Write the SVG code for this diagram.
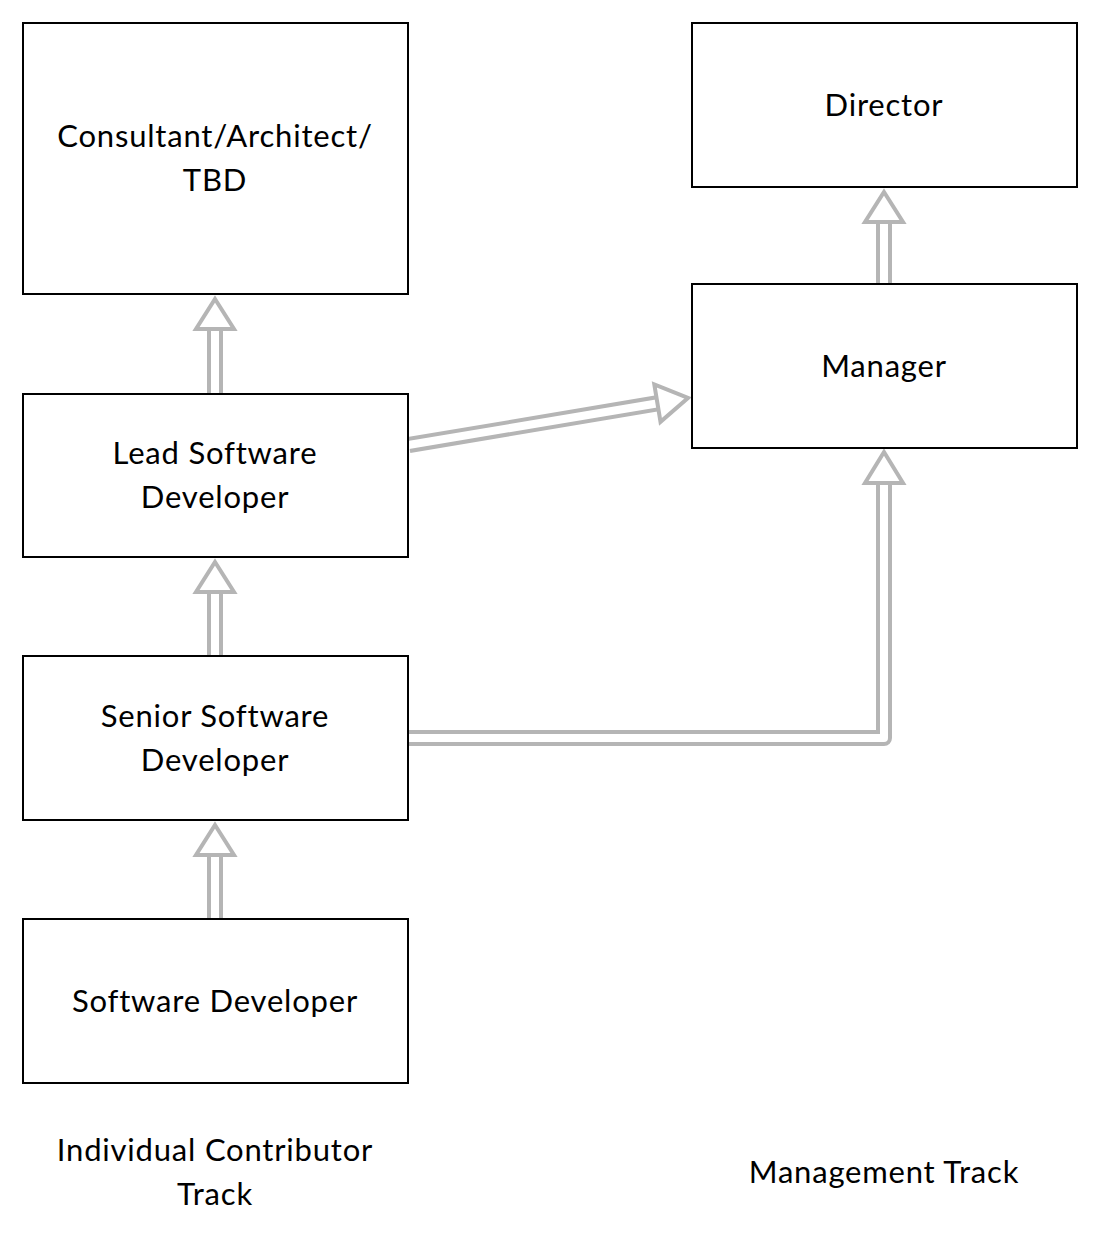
<svg xmlns="http://www.w3.org/2000/svg" width="1100" height="1246" viewBox="0 0 1100 1246">
<style>
.box{fill:#fff;stroke:#000;stroke-width:2}
.t{font-family:Lato,"Liberation Sans",sans-serif;font-size:31px;letter-spacing:0.8px;fill:#000;text-anchor:middle}
.lo{fill:none;stroke:#b5b5b5;stroke-width:16;stroke-linejoin:round}
.li{fill:none;stroke:#fff;stroke-width:8;stroke-linejoin:round}
.ah{fill:#fff;stroke:#b5b5b5;stroke-width:4;stroke-linejoin:miter}
</style>
<rect width="1100" height="1246" fill="#fff"/>
<g id="connectors">
  <g id="c1">
    <path class="lo" d="M215,394 V328"/><path class="li" d="M215,396 V326"/>
    <polygon class="ah" points="215,299 234,329 196,329"/>
  </g>
  <g id="c2">
    <path class="lo" d="M215,656 V590"/><path class="li" d="M215,658 V588"/>
    <polygon class="ah" points="215,562 234,592 196,592"/>
  </g>
  <g id="c3">
    <path class="lo" d="M215,919 V853"/><path class="li" d="M215,921 V851"/>
    <polygon class="ah" points="215,825 234,855 196,855"/>
  </g>
  <g id="c4">
    <path class="lo" d="M884,284 V220"/><path class="li" d="M884,286 V218"/>
    <polygon class="ah" points="884,192 903,222 865,222"/>
  </g>
  <g id="c5">
    <path class="lo" d="M408,738 H884 V481"/><path class="li" d="M406,738 H884 V479"/>
    <polygon class="ah" points="884,452 903,483 865,483"/>
  </g>
  <g id="c6">
    <path class="lo" d="M409,445 L659,403"/><path class="li" d="M407,445.3 L661,402.7"/>
    <polygon class="ah" points="688,398 660.5,421.8 654.3,384.4"/>
  </g>
</g>
<g id="consultant"><rect class="box" x="23" y="23" width="385" height="271"/><text class="t" x="215" y="147">Consultant/Architect/</text><text class="t" x="215" y="191">TBD</text></g>
<g id="lead"><rect class="box" x="23" y="394" width="385" height="163"/><text class="t" x="215" y="464">Lead Software</text><text class="t" x="215" y="508">Developer</text></g>
<g id="senior"><rect class="box" x="23" y="656" width="385" height="164"/><text class="t" x="215" y="727">Senior Software</text><text class="t" x="215" y="771">Developer</text></g>
<g id="developer"><rect class="box" x="23" y="919" width="385" height="164"/><text class="t" x="215" y="1012">Software Developer</text></g>
<g id="director"><rect class="box" x="692" y="23" width="385" height="164"/><text class="t" x="884" y="116">Director</text></g>
<g id="manager"><rect class="box" x="692" y="284" width="385" height="164"/><text class="t" x="884" y="377">Manager</text></g>
<g id="ic-track"><text class="t" x="215" y="1161">Individual Contributor</text><text class="t" x="215" y="1205">Track</text></g>
<g id="mgmt-track"><text class="t" x="884" y="1183">Management Track</text></g>
</svg>
